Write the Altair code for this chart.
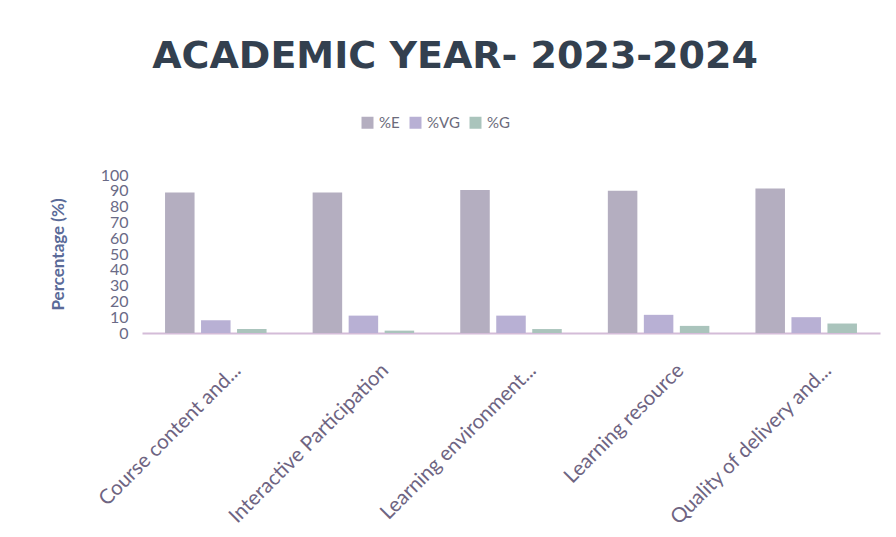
import altair as alt
import pandas as pd

categories = ["Course content and...", "Interactive Participation",
              "Learning environment...", "Learning resource",
              "Quality of delivery and..."]
series = ["%E", "%VG", "%G"]
pct_E = [89, 89, 90.5, 90, 91.5]
pct_VG = [8, 11, 11, 11.5, 10]
pct_G = [2.5, 1.5, 2.5, 4.5, 6]
y_ticks = list(range(0, 101, 10))
colors = ["#b4aec0", "#b8b0d4", "#aac4bc"]

rows = []
for s, vals in zip(series, [pct_E, pct_VG, pct_G]):
    for c, v in zip(categories, vals):
        rows.append({"Category": c, "Series": s, "Value": v})
df = pd.DataFrame(rows)

chart = alt.Chart(df).mark_bar().encode(
    x=alt.X("Category:N", sort=categories,
            scale=alt.Scale(paddingInner=0, paddingOuter=0),
            axis=alt.Axis(title=None, labelAngle=-45, labelAlign="right",
                          labelBaseline="middle", labelPadding=34, labelOffset=22,
                          ticks=False, domainColor="#d4bcd8", domainWidth=2,
                          labelFont="Lato", labelFontSize=20.5, labelColor="#6e6482",
                          labelLimit=400)),
    xOffset=alt.XOffset("Series:N", sort=series,
                        scale=alt.Scale(paddingInner=0.18, paddingOuter=0.64)),
    y=alt.Y("Value:Q", scale=alt.Scale(domain=[0, 100], nice=False),
            axis=alt.Axis(values=y_ticks, title="Percentage (%)", grid=False,
                          domain=False, ticks=False, labelPadding=14,
                          labelFont="Lato", labelFontSize=16, labelColor="#6a6a86",
                          labelOverlap=False, titleFont="Lato", titleFontSize=17,
                          titleFontWeight="bold", titleColor="#5a6a98",
                          titleX=-84, titleY=79, titleAlign="center",
                          titleBaseline="middle", titleAngle=-90)),
    color=alt.Color("Series:N", sort=series,
                    scale=alt.Scale(domain=series, range=colors),
                    legend=alt.Legend(title=None, orient="none", direction="horizontal",
                                      legendX=218, legendY=-60, symbolType="square",
                                      symbolSize=144, labelFont="Lato", labelFontSize=15,
                                      labelColor="#6b6b7b", columnPadding=8,
                                      symbolStrokeWidth=0))
).properties(
    width=738, height=158,
    title=alt.TitleParams(text="ACADEMIC YEAR- 2023-2024", font="DejaVu Sans",
                          fontSize=38, fontWeight="bold", color="#33404f",
                          anchor="middle", dx=-56, offset=39),
    padding={"left": 134, "top": 167, "right": 8, "bottom": 190},
    autosize=alt.AutoSizeParams(type="none"),
).configure(background="white", view=alt.ViewConfig(stroke="transparent"))

chart.save("out.html", embed_options={"renderer": "svg", "actions": False})
